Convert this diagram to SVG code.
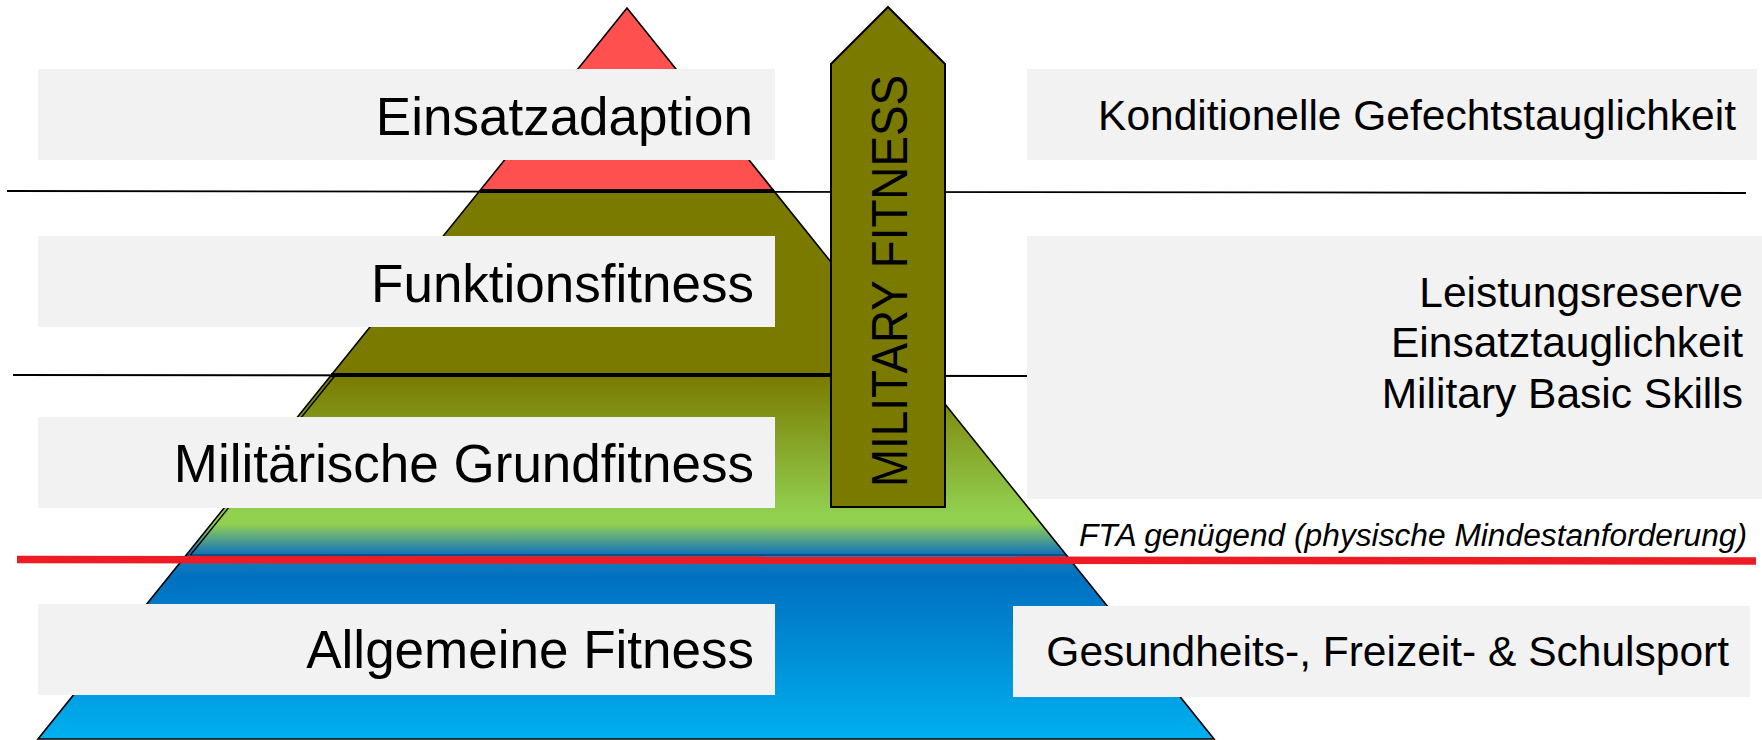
<svg xmlns="http://www.w3.org/2000/svg" width="1762" height="740" viewBox="0 0 1762 740">
  <defs>
    <linearGradient id="gMid" gradientUnits="userSpaceOnUse" x1="0" y1="191" x2="0" y2="556">
      <stop offset="0" stop-color="#7A7A00"/>
      <stop offset="0.505" stop-color="#7A7A00"/>
      <stop offset="0.885" stop-color="#92D050"/>
      <stop offset="0.912" stop-color="#92D050"/>
      <stop offset="0.96" stop-color="#4A9A90"/>
      <stop offset="1" stop-color="#0A6EBE"/>
    </linearGradient>
    <linearGradient id="gLow" gradientUnits="userSpaceOnUse" x1="0" y1="555" x2="0" y2="739">
      <stop offset="0" stop-color="#1F80B8"/>
      <stop offset="0.12" stop-color="#0070C0"/>
      <stop offset="1" stop-color="#00B0F0"/>
    </linearGradient>
    <style>
      .box { fill: #F2F2F2; }
      .lbl { font-family: "Liberation Sans", Arial, sans-serif; font-size: 53px; fill: #000; text-anchor: end; }
      .rlbl { font-family: "Liberation Sans", Arial, sans-serif; font-size: 42.5px; fill: #000; text-anchor: end; }
      .edge { fill: none; stroke: #000; stroke-width: 1.6; }
      .hline { stroke: #000; stroke-width: 1.8; }
      .hthick { stroke: #000; stroke-width: 4; }
    </style>
  </defs>

  <g id="pyramid">
    <polygon points="186.3,555 1066.2,555 1214,739 38,739" fill="url(#gLow)"/>
    <polygon points="480,191 774,191 1066.6,556 186,556" fill="url(#gMid)"/>
    <polygon points="627,8 774,191 480,191" fill="#FF5050"/>
    <line x1="186" y1="555" x2="1066.2" y2="555" stroke="#0A3050" stroke-width="1.2"/>
    <line x1="335.5" y1="375" x2="190.5" y2="555" stroke="#000" stroke-width="1.4"/>
    <polygon points="627,8 1214,739 38,739" class="edge"/>
  </g>

  <g id="connectors">
    <line class="hline" x1="7" y1="191" x2="1746" y2="193"/>
    <line class="hthick" x1="480" y1="191" x2="774" y2="191"/>
    <line class="hline" x1="13" y1="375" x2="1027" y2="376"/>
    <line class="hthick" x1="331" y1="375" x2="922" y2="375"/>
    <line x1="17" y1="559.5" x2="1756" y2="561" stroke="#ED1C24" stroke-width="7.5"/>
  </g>

  <g id="node-einsatzadaption">
    <rect class="box" x="38" y="69" width="737" height="91"/>
    <text class="lbl" x="753" y="135">Einsatzadaption</text>
  </g>
  <g id="node-funktionsfitness">
    <rect class="box" x="38" y="236" width="737" height="91"/>
    <text class="lbl" x="754" y="302">Funktionsfitness</text>
  </g>
  <g id="node-grundfitness">
    <rect class="box" x="38" y="417" width="737" height="91"/>
    <text class="lbl" x="754" y="482">Militärische Grundfitness</text>
  </g>
  <g id="node-allgemein">
    <rect class="box" x="38" y="604" width="737" height="91"/>
    <text class="lbl" x="754" y="668">Allgemeine Fitness</text>
  </g>

  <g id="node-konditionelle">
    <rect class="box" x="1027" y="69" width="730" height="91"/>
    <text class="rlbl" x="1736" y="130">Konditionelle Gefechtstauglichkeit</text>
  </g>
  <g id="node-leistung">
    <rect class="box" x="1027" y="236" width="735" height="263"/>
    <text class="rlbl" x="1743" y="307">Leistungsreserve</text>
    <text class="rlbl" x="1743" y="357">Einsatztauglichkeit</text>
    <text class="rlbl" x="1743" y="408">Military Basic Skills</text>
  </g>
  <g id="node-fta">
    <text x="1747" y="546" font-family="Liberation Sans, Arial, sans-serif" font-size="31" font-style="italic" text-anchor="end" textLength="668" lengthAdjust="spacingAndGlyphs">FTA genügend (physische Mindestanforderung)</text>
  </g>
  <g id="node-gesundheit">
    <rect class="box" x="1013" y="606" width="737" height="91"/>
    <text class="rlbl" x="1729" y="666">Gesundheits-, Freizeit- &amp; Schulsport</text>
  </g>

  <g id="node-military-fitness">
    <polygon points="888,7 945,64 945,507 831,507 831,64" fill="#7A7A00" stroke="#000" stroke-width="2"/>
    <text transform="translate(907,281) rotate(-90)" x="0" y="0" font-family="Liberation Sans, Arial, sans-serif" font-size="50" text-anchor="middle" textLength="412" lengthAdjust="spacingAndGlyphs" fill="#000">MILITARY FITNESS</text>
  </g>
</svg>
